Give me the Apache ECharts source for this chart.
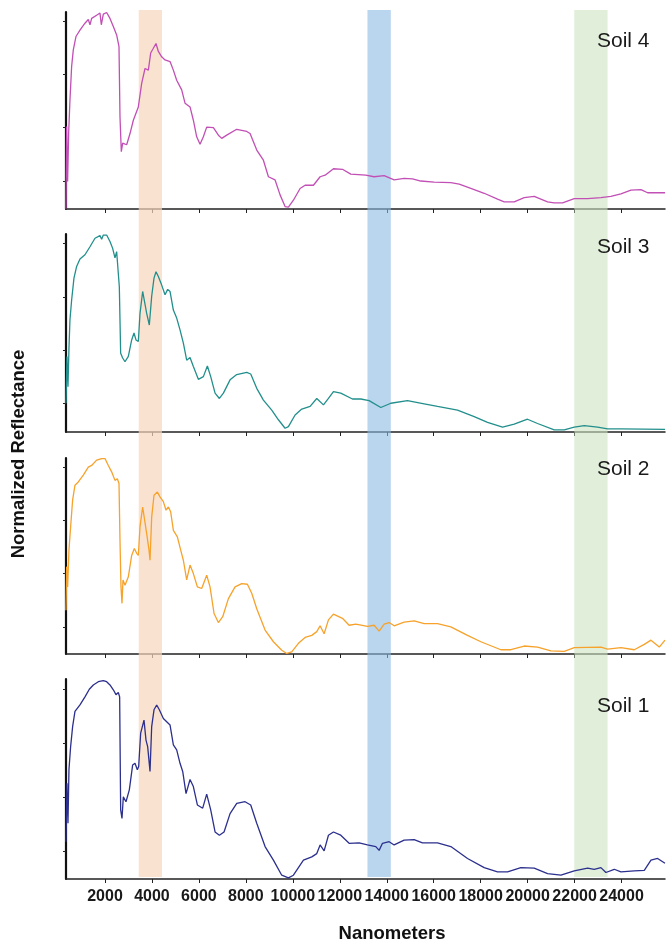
<!DOCTYPE html>
<html><head><meta charset="utf-8">
<script src="https://cdn.jsdelivr.net/npm/echarts@6/dist/echarts.min.js"></script>
<style>html,body{margin:0;padding:0;background:#fff}#chart{width:668px;height:950px}</style>
</head><body><div id="chart"></div>
<script>
// ---------- data ----------
const xTicks = [2000,4000,6000,8000,10000,12000,14000,16000,18000,20000,22000,24000];
const yTicks = [0,1,2,3];
const soilNames = ['Soil 4','Soil 3','Soil 2','Soil 1'];
const bandRanges = [[3436,4429],[13178,14174],[21985,23405]];

const soil4Nm = [338,367,409,452,509,580,651,764,935,1148,1290,1361,1432,1645,1787,1844,1929,2071,2213,2355,2497,2597,2639,2696,2753,2810,2924,3066,3208,3420,3563,3705,3847,3946,4060,4173,4273,4415,4557,4770,4912,5054,5267,5409,5622,5764,5906,6048,6190,6332,6617,6830,6972,7185,7611,8037,8179,8463,8747,8960,9244,9457,9670,9812,10025,10309,10522,10878,11162,11375,11730,12113,12468,13107,13462,13889,14315,14741,15096,15451,16019,16729,17085,17582,18150,18718,19002,19428,19854,20280,20564,20849,21133,21488,21985,22553,23121,23547,23973,24400,24826,25110,25850];
const soil4Refl = [-0.52,1.02,-0.01,0.89,1.52,2.15,2.46,2.71,2.83,2.96,3.03,2.93,3.05,3.11,3.15,2.93,3.13,3.16,3.05,2.90,2.74,2.52,1.21,0.55,0.71,0.74,0.68,0.89,1.14,1.39,1.83,2.11,2.08,2.40,2.49,2.58,2.43,2.33,2.27,2.24,2.08,1.89,1.71,1.46,1.39,1.14,0.83,0.69,0.83,1.01,1.00,0.86,0.80,0.86,0.97,0.93,0.89,0.58,0.39,0.08,0.02,-0.26,-0.48,-0.49,-0.36,-0.14,-0.08,-0.08,0.08,0.11,0.23,0.22,0.13,0.11,0.08,0.10,0.02,0.05,0.04,0.00,-0.02,-0.03,-0.06,-0.14,-0.23,-0.34,-0.39,-0.39,-0.31,-0.29,-0.34,-0.39,-0.41,-0.41,-0.33,-0.33,-0.31,-0.29,-0.24,-0.17,-0.16,-0.22,-0.22];

const soil3Nm = [338,381,424,466,509,580,679,793,935,1148,1361,1574,1787,1858,1929,2071,2213,2327,2384,2426,2497,2568,2611,2668,2753,2853,2995,3137,3236,3321,3420,3492,3605,3676,3776,3889,3989,4088,4173,4273,4415,4557,4671,4770,4912,5054,5196,5338,5480,5622,5764,5977,6190,6361,6503,6688,6872,7043,7327,7611,8037,8207,8463,8747,9102,9386,9670,9812,10096,10381,10736,11020,11304,11517,11730,12042,12539,12894,13249,13747,14173,14883,15593,16161,17013,17724,18292,18931,19428,19996,20422,21133,21559,21985,22411,22979,23405,23973,25850];
const soil3Refl = [0.00,0.88,0.31,1.03,1.57,1.94,2.35,2.57,2.71,2.79,2.94,3.10,3.15,3.08,3.16,3.16,3.04,2.91,2.94,2.73,2.85,2.88,2.19,0.94,0.85,0.78,0.88,1.19,1.32,1.19,1.16,1.69,2.10,2.07,1.69,1.47,2.01,2.35,2.47,2.38,2.22,2.04,2.14,2.10,1.75,1.60,1.38,1.13,0.81,0.86,0.69,0.45,0.50,0.70,0.50,0.19,0.09,0.19,0.44,0.54,0.58,0.55,0.28,0.06,-0.13,-0.31,-0.47,-0.44,-0.22,-0.11,-0.06,0.09,-0.03,0.09,0.22,0.19,0.08,0.08,0.05,-0.08,0.00,0.05,-0.01,-0.06,-0.13,-0.25,-0.36,-0.45,-0.39,-0.30,-0.38,-0.50,-0.50,-0.45,-0.42,-0.45,-0.48,-0.48,-0.49];

const soil2Nm = [338,367,409,466,537,622,722,864,1077,1290,1432,1645,1858,2000,2143,2284,2426,2526,2597,2639,2682,2725,2767,2853,2995,3137,3250,3350,3420,3492,3605,3676,3776,3875,3918,3989,4088,4230,4344,4486,4600,4699,4798,4912,5083,5225,5338,5480,5622,5764,5935,6119,6332,6474,6645,6830,7014,7256,7540,7824,8065,8250,8463,8818,9173,9528,9741,9954,10239,10522,10807,11020,11162,11333,11517,11730,12113,12397,12681,13178,13462,13676,13889,14102,14315,14741,15167,15593,16161,16729,17440,18008,18860,19286,19854,20422,20991,21559,21985,23121,23405,23973,24542,24968,25252,25607,25850];
const soil2Refl = [0.31,1.13,0.75,1.44,1.88,2.38,2.66,2.72,2.85,3.00,3.03,3.13,3.16,3.16,3.03,2.91,2.75,2.78,2.69,1.63,0.75,0.44,0.88,0.78,0.94,1.34,1.47,1.38,1.34,1.88,2.25,2.28,1.75,1.44,1.25,2.06,2.47,2.53,2.44,2.35,2.19,2.25,2.16,1.81,1.69,1.44,1.25,0.88,1.16,1.00,0.75,0.72,0.97,0.75,0.25,0.08,0.19,0.53,0.75,0.81,0.80,0.63,0.34,-0.06,-0.28,-0.44,-0.50,-0.47,-0.31,-0.20,-0.16,-0.09,0.02,-0.13,0.13,0.24,0.16,0.03,0.05,0.01,0.03,-0.08,0.05,0.08,0.02,0.09,0.11,0.06,0.06,0.00,-0.16,-0.28,-0.43,-0.43,-0.36,-0.38,-0.45,-0.46,-0.39,-0.38,-0.42,-0.39,-0.43,-0.33,-0.25,-0.38,-0.25];

const soil1Nm = [338,381,424,466,537,622,722,935,1148,1333,1503,1716,1929,2071,2213,2355,2469,2568,2625,2668,2725,2781,2895,3037,3179,3279,3378,3435,3520,3662,3747,3818,3918,3989,4088,4202,4315,4486,4628,4770,4912,5054,5196,5310,5452,5622,5764,5935,6162,6332,6503,6688,6872,7071,7327,7611,7966,8207,8463,8818,9173,9528,9812,10025,10452,10807,11020,11162,11333,11517,11730,12042,12397,12823,13178,13534,13676,13818,14102,14315,14741,15167,15522,16161,16729,17440,18150,18718,19144,19712,20280,20849,21417,21985,22553,22837,23121,23334,23689,23973,24542,24968,25252,25536,25850];
const soil1Refl = [0.18,1.26,0.52,1.51,1.94,2.31,2.59,2.71,2.86,3.00,3.08,3.14,3.16,3.14,3.08,2.99,2.90,2.94,2.86,0.77,0.61,1.01,0.92,1.14,1.60,1.63,1.51,1.57,2.19,2.43,2.06,1.94,1.48,2.31,2.62,2.71,2.62,2.46,2.40,2.34,1.97,1.88,1.63,1.48,1.07,1.33,1.20,0.86,0.80,1.06,0.77,0.36,0.30,0.36,0.70,0.89,0.92,0.86,0.52,0.09,-0.16,-0.44,-0.49,-0.44,-0.16,-0.10,-0.04,0.12,0.01,0.30,0.36,0.30,0.15,0.16,0.12,0.09,0.02,0.15,0.18,0.12,0.21,0.22,0.16,0.16,0.09,-0.13,-0.30,-0.38,-0.38,-0.30,-0.31,-0.41,-0.44,-0.36,-0.31,-0.33,-0.30,-0.39,-0.33,-0.38,-0.36,-0.35,-0.16,-0.13,-0.22];

// ---------- layout / style ----------
const seriesNm = [soil4Nm, soil3Nm, soil2Nm, soil1Nm];
const seriesRefl = [soil4Refl, soil3Refl, soil2Refl, soil1Refl];
const colors = ['#c24fb5','#228f8c','#f6a22b','#2b2f8d'];
const bandColors = ['rgba(248,214,190,0.7)','rgba(140,186,228,0.6)','rgba(205,227,194,0.6)'];
const panels = [
  {top:12,  height:197, yMin:-0.525, yMax:3.17, labelY:41},
  {top:234, height:198, yMin:-0.54,  yMax:3.18, labelY:247},
  {top:458, height:196, yMin:-0.51,  yMax:3.17, labelY:469},
  {top:679, height:200, yMin:-0.51,  yMax:3.19, labelY:706}
];
const X_MIN = 340, X_MAX = 25850;
const LEFT = 66, RIGHT = 3;
const FONT = '"Liberation Sans", Arial, sans-serif';

const grids = [], xAxes = [], yAxes = [], series = [];
panels.forEach((p, i) => {
  const last = i === panels.length - 1;
  grids.push({left: LEFT, right: RIGHT, top: p.top, height: p.height});
  xAxes.push({
    type: 'value', gridIndex: i, min: X_MIN, max: X_MAX,
    axisLine: {show: true, onZero: false, lineStyle: {color: '#222', width: 1.5}},
    axisTick: {show: true, length: 4, customValues: xTicks, lineStyle: {color: '#222', width: 1}},
    axisLabel: {show: last, customValues: xTicks, formatter: v => String(v),
      fontFamily: FONT, fontSize: 16, fontWeight: 'bold', color: '#1a1a1a', margin: 10},
    splitLine: {show: false}
  });
  yAxes.push({
    type: 'value', gridIndex: i, min: p.yMin, max: p.yMax,
    axisLine: {show: true, onZero: false, lineStyle: {color: '#111', width: 2.2}},
    axisTick: {show: true, length: 3, customValues: yTicks, lineStyle: {color: '#222', width: 1}},
    axisLabel: {show: false},
    splitLine: {show: false}
  });
  series.push({
    name: soilNames[i], type: 'line', xAxisIndex: i, yAxisIndex: i,
    showSymbol: false, symbol: 'none', z: 3, animation: false,
    lineStyle: {color: colors[i], width: 1.3},
    data: seriesNm[i].map((x, k) => [x, seriesRefl[i][k]])
  });
});

// background grid for the vertical highlight bands
grids.push({left: LEFT, right: RIGHT, top: 10, bottom: 73});
xAxes.push({type: 'value', gridIndex: 4, min: X_MIN, max: X_MAX, show: false});
yAxes.push({type: 'value', gridIndex: 4, min: 0, max: 1, show: false});
series.push({
  type: 'line', xAxisIndex: 4, yAxisIndex: 4, data: [], z: 0, silent: true, animation: false,
  markArea: {
    silent: true,
    data: bandRanges.map((r, k) => [
      {xAxis: r[0], itemStyle: {color: bandColors[k]}},
      {xAxis: r[1]}
    ])
  }
});

const graphic = panels.map((p, i) => ({
  type: 'text', x: 597, y: p.labelY, z: 10,
  style: {text: soilNames[i], fill: '#1a1a1a', font: '21px ' + FONT, verticalAlign: 'middle'}
}));
graphic.push({
  type: 'text', x: 392, y: 934, z: 10,
  style: {text: 'Nanometers', fill: '#111', font: 'bold 18.5px ' + FONT, align: 'center', verticalAlign: 'middle'}
});
graphic.push({
  type: 'text', x: 18.5, y: 454, rotation: Math.PI / 2, z: 10,
  style: {text: 'Normalized Reflectance', fill: '#111', font: 'bold 18.5px ' + FONT, align: 'center', verticalAlign: 'middle'}
});

const chart = echarts.init(document.getElementById('chart'), null, {renderer: 'canvas'});
chart.setOption({
  backgroundColor: '#fff',
  animation: false,
  grid: grids, xAxis: xAxes, yAxis: yAxes, series: series, graphic: graphic
});
</script></body></html>
